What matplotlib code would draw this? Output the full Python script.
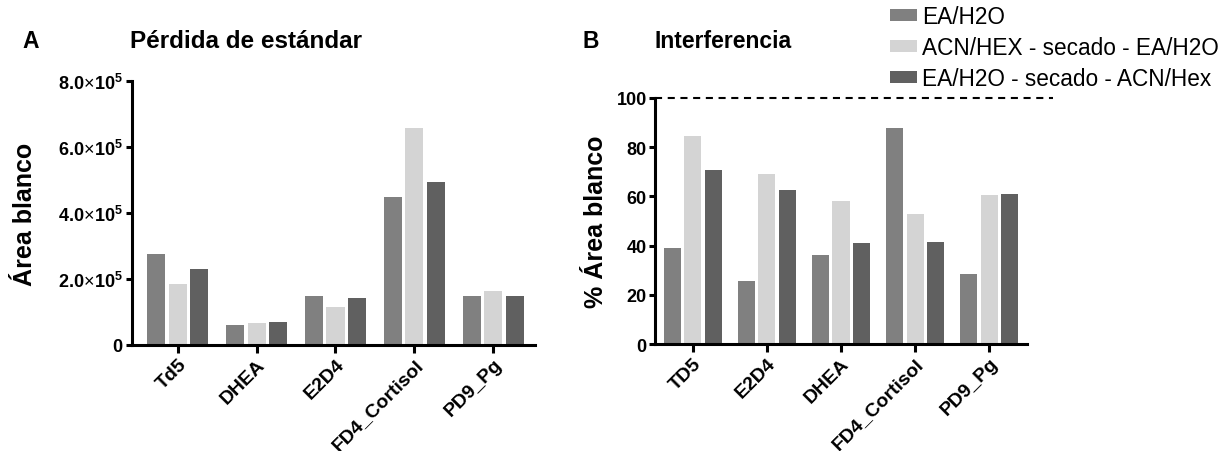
import matplotlib
matplotlib.use("Agg")
import matplotlib.pyplot as plt
import matplotlib.patches as mpatches
from matplotlib.ticker import FuncFormatter
import numpy as np

plt.rcParams['font.family'] = ['Liberation Sans', 'DejaVu Sans']
plt.rcParams['mathtext.fontset'] = 'custom'
plt.rcParams['mathtext.rm'] = 'Liberation Sans'
plt.rcParams['mathtext.bf'] = 'Liberation Sans:bold'
plt.rcParams['mathtext.it'] = 'Liberation Sans:italic'

# ---------------- data ----------------
series_names = ["EA/H2O", "ACN/HEX - secado - EA/H2O", "EA/H2O - secado - ACN/Hex"]
series_colors = ["#808080", "#d4d4d4", "#606060"]

cats_A = ["Td5", "DHEA", "E2D4", "FD4_Cortisol", "PD9_Pg"]
vals_A_ea = [2.77e5, 0.61e5, 1.47e5, 4.48e5, 1.50e5]
vals_A_acn = [1.86e5, 0.68e5, 1.15e5, 6.59e5, 1.65e5]
vals_A_eah = [2.29e5, 0.69e5, 1.43e5, 4.94e5, 1.47e5]
yticks_A = [0, 2e5, 4e5, 6e5, 8e5]

cats_B = ["TD5", "E2D4", "DHEA", "FD4_Cortisol", "PD9_Pg"]
vals_B_ea = [39.1, 25.6, 36.0, 87.8, 28.5]
vals_B_acn = [84.5, 69.2, 58.0, 52.7, 60.6]
vals_B_eah = [70.9, 62.8, 41.2, 41.4, 61.1]
yticks_B = [0, 20, 40, 60, 80, 100]
ref_line_B = 100

W, H = 1229, 452
fig = plt.figure(figsize=(W / 100, H / 100), dpi=100)


def px_axes(l, t, r, b):
    return fig.add_axes([l / W, 1 - b / H, (r - l) / W, (b - t) / H])


def style_axes(ax):
    for s in ("top", "right"):
        ax.spines[s].set_visible(False)
    for s in ("left", "bottom"):
        ax.spines[s].set_linewidth(2.2)
    ax.tick_params(axis="y", direction="out", length=4, width=2.2, labelsize=13, pad=2)
    ax.tick_params(axis="x", direction="out", length=5.5, width=2.2, labelsize=14, pad=2)
    for lab in ax.get_yticklabels():
        lab.set_fontweight("bold")


def draw_bars(ax, cats, series, width=0.23, pitch=0.273):
    x = np.arange(len(cats))
    for i, (vals, col) in enumerate(zip(series, series_colors)):
        ax.bar(x + (i - 1) * pitch, vals, width=width, color=col, edgecolor="none", zorder=2)
    ax.set_xticks(x)
    ax.set_xticklabels(cats, rotation=45, ha="right", rotation_mode="anchor",
                       fontweight="bold")


# ---------------- panel A ----------------
axA = px_axes(132, 82, 535, 346)
draw_bars(axA, cats_A, [vals_A_ea, vals_A_acn, vals_A_eah])
axA.set_xlim(-0.58, 4.53)
axA.set_ylim(0, 8e5)
axA.set_yticks(yticks_A)


def sci_fmt(v, pos):
    if v == 0:
        return r"$\mathbf{0}$"
    m = v / 1e5
    return r"$\mathbf{%.1f}\!\times\!\mathbf{10}^{\mathbf{5}}$" % m


axA.yaxis.set_major_formatter(FuncFormatter(sci_fmt))
style_axes(axA)
axA.set_ylabel("Área blanco", fontsize=18, fontweight="bold")
axA.yaxis.set_label_coords(-0.236, 0.5)

# ---------------- panel B ----------------
axB = px_axes(655, 99, 1027, 345)
draw_bars(axB, cats_B, [vals_B_ea, vals_B_acn, vals_B_eah])
axB.set_xlim(-0.51, 4.51)
axB.set_ylim(0, 100)
axB.set_yticks(yticks_B)
style_axes(axB)
axB.set_ylabel("% Área blanco", fontsize=18, fontweight="bold")
axB.yaxis.set_label_coords(-0.127, 0.5)
axB.plot([-0.51, 4.855], [ref_line_B, ref_line_B], color="black", lw=1.5,
         linestyle=(0, (3.4, 2.7)), clip_on=False, zorder=3)

# ---------------- titles ----------------
fig.text(22 / W, 1 - 42 / H, "A", fontsize=16.5, fontweight="bold", va="center", ha="left")
fig.text(130 / W, 1 - 42 / H, "Pérdida de estándar", fontsize=17.5, fontweight="bold",
         va="center", ha="left")
fig.text(583 / W, 1 - 42 / H, "B", fontsize=16.5, fontweight="bold", va="center", ha="left")
fig.text(655 / W, 1 - 42 / H, "Interferencia", fontsize=16.5, fontweight="bold",
         va="center", ha="left")

# ---------------- legend ----------------
handles = [mpatches.Patch(facecolor=c, edgecolor="none") for c in series_colors]
fig.legend(handles, series_names, loc="upper left", bbox_to_anchor=(890 / W, 1 - 6 / H),
           frameon=False, fontsize=16.3, handlelength=1.2, handleheight=0.4,
           handletextpad=0.2, labelspacing=0.36, borderaxespad=0, borderpad=0)

fig.savefig("out.png", dpi=100)
